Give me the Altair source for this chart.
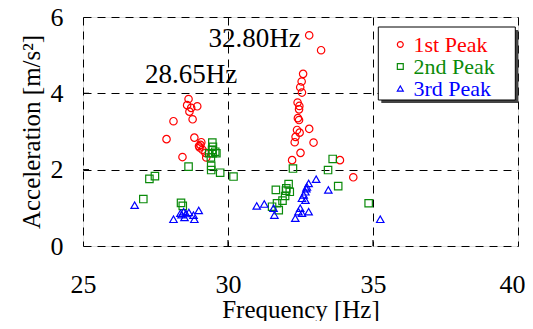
import altair as alt
import pandas as pd

# ---- data ----
series_names = ["1st Peak", "2nd Peak", "3rd Peak"]
series_colors = ["#FF0000", "#0A8A0A", "#0000FF"]
series_shapes = ["circle", "square", "triangle-up"]

p1_freq = [28.64, 28.59, 28.73, 28.94, 28.67, 28.78, 28.12, 27.88, 28.84, 29.08, 29.05, 29.02,
           29.12, 29.22, 29.25, 28.43, 29.00,
           32.80, 33.21, 32.59, 32.54, 32.49, 32.55, 32.40, 32.46, 32.45, 32.41, 32.45, 32.38,
           32.47, 32.80, 32.33, 32.30, 32.95, 32.50, 32.21, 33.86, 34.32]
p1_acc = [3.85, 3.69, 3.62, 3.66, 3.52, 3.32, 3.27, 2.80, 2.84, 2.72, 2.65, 2.58,
          2.52, 2.44, 2.32, 2.33, 2.62,
          5.52, 5.13, 4.51, 4.31, 4.16, 4.02, 3.76, 3.67, 3.58, 3.35, 3.30, 3.04,
          2.97, 3.07, 2.86, 2.72, 2.71, 2.44, 2.25, 2.25, 1.80]

p2_freq = [29.46, 29.48, 29.45, 29.56, 29.35, 29.47, 29.60, 29.41, 29.42, 29.42, 29.73, 28.64,
           30.19, 27.48, 27.29, 27.08, 28.38, 28.44,
           33.61, 33.45, 32.24, 33.80, 32.09, 31.65, 32.01, 32.13, 31.97, 31.88, 31.69, 31.52,
           31.75, 34.85, 32.00]
p2_acc = [2.71, 2.60, 2.52, 2.47, 2.43, 2.43, 2.43, 2.32, 2.10, 1.99, 1.92, 2.08,
          1.82, 1.83, 1.76, 1.23, 1.13, 1.05,
          2.28, 1.99, 2.03, 1.57, 1.62, 1.47, 1.51, 1.42, 1.31, 1.19, 1.12, 1.03,
          0.94, 1.12, 1.45]

p3_freq = [26.78, 28.12, 28.36, 28.47, 28.55, 28.65, 28.81, 28.84, 28.99, 28.50, 28.40,
           33.04, 33.46, 32.78, 32.72, 32.67, 32.61, 32.55, 32.67, 32.70, 30.99, 31.25, 31.57,
           31.60, 32.49, 32.78, 32.43, 32.55, 32.32, 35.25]
p3_acc = [1.07, 0.70, 0.86, 0.90, 0.85, 0.88, 0.81, 0.70, 0.93, 0.75, 0.82,
          1.75, 1.47, 1.64, 1.55, 1.42, 1.34, 1.25, 1.20, 1.50, 1.05, 1.10, 0.99,
          0.81, 0.99, 0.90, 0.90, 0.86, 0.73, 0.70]

x_ticks = [25, 30, 35, 40]
y_ticks = [0, 2, 4, 6]
x_inner_ticks = [30, 35]
y_inner_ticks = [2, 4]

annotations = ["32.80Hz", "28.65Hz"]

# ---- build table ----
frames = []
for name, fx, fy in zip(series_names, [p1_freq, p2_freq, p3_freq], [p1_acc, p2_acc, p3_acc]):
    frames.append(pd.DataFrame({"freq": fx, "acc": fy, "series": name}))
df = pd.concat(frames, ignore_index=True)

W, H = 435, 229
FONT = "Liberation Serif"

xscale = alt.Scale(domain=[25, 40], nice=False, zero=False)
yscale = alt.Scale(domain=[0, 6], nice=False)

x_axis = alt.Axis(values=x_ticks, title="Frequency [Hz]", domain=False, ticks=False,
                  grid=True, gridDash=[8, 6], gridColor="black", gridWidth=1, gridOpacity=1,
                  labelFont=FONT, labelFontSize=26, labelColor="black", labelPadding=25,
                  labelFlush=False,
                  labelOffset={"condition": {"test": "datum.value >= 40", "value": -6}, "value": 0},
                  titleFont=FONT, titleFontSize=25, titleFontWeight="normal", titleColor="black",
                  titlePadding=0)
y_axis = alt.Axis(values=y_ticks, title="Acceleration [m/s²]", domain=False, ticks=False,
                  grid=True, gridDash=[8, 6], gridColor="black", gridWidth=1, gridOpacity=1,
                  labelFont=FONT, labelFontSize=26, labelColor="black", labelPadding=20,
                  labelFlush=False,
                  titleFont=FONT, titleFontSize=25, titleFontWeight="normal", titleColor="black",
                  titlePadding=6)

points = alt.Chart(df).mark_point(filled=False, size=55, strokeWidth=1.2, opacity=1).encode(
    x=alt.X("freq:Q", scale=xscale, axis=x_axis),
    y=alt.Y("acc:Q", scale=yscale, axis=y_axis),
    color=alt.Color("series:N", scale=alt.Scale(domain=series_names, range=series_colors), legend=None),
    shape=alt.Shape("series:N", scale=alt.Scale(domain=series_names, range=series_shapes), legend=None),
)

xt = alt.Chart(pd.DataFrame({"v": x_inner_ticks})).mark_rule(color="black", strokeWidth=1.2).encode(
    x=alt.X("v:Q", scale=xscale), y=alt.value(H), y2=alt.value(H - 6))
yt = alt.Chart(pd.DataFrame({"v": y_inner_ticks})).mark_rule(color="black", strokeWidth=1.2).encode(
    y=alt.Y("v:Q", scale=yscale), x=alt.value(0), x2=alt.value(6))

ann_pos = [(125.5, 29.7), (62.0, 66.3)]
ann_layers = []
for txt, (ax, ay) in zip(annotations, ann_pos):
    ann_layers.append(
        alt.Chart(pd.DataFrame({"t": [txt]})).mark_text(
            align="left", baseline="alphabetic", font=FONT, fontSize=27, color="black"
        ).encode(text="t:N", x=alt.value(ax), y=alt.value(ay))
    )

# legend (drawn manually so labels take series colours)
one = pd.DataFrame({"a": [0]})
shadow = alt.Chart(one).mark_rect(fill="#444444").encode(
    x=alt.value(298.3), x2=alt.value(435.3), y=alt.value(13), y2=alt.value(86))
box = alt.Chart(one).mark_rect(fill="white", stroke="black", strokeWidth=1).encode(
    x=alt.value(295.3), x2=alt.value(432.3), y=alt.value(10), y2=alt.value(83))
leg_layers = [shadow, box]
for i, (name, col, shp) in enumerate(zip(series_names, series_colors, series_shapes)):
    cy = 27.5 + 22 * i
    leg_layers.append(
        alt.Chart(pd.DataFrame({"s": [name]})).mark_point(
            filled=False, shape=shp, size=35, strokeWidth=1.2, color=col, opacity=1
        ).encode(x=alt.value(317.3), y=alt.value(cy))
    )
    leg_layers.append(
        alt.Chart(pd.DataFrame({"s": [name]})).mark_text(
            align="left", baseline="alphabetic", font=FONT, fontSize=22, color=col
        ).encode(text="s:N", x=alt.value(330.5), y=alt.value(cy + 7.5))
    )

chart = alt.layer(points, xt, yt, *ann_layers, *leg_layers).properties(
    width=W, height=H,
    autosize=alt.AutoSizeParams(type="none"),
    padding={"left": 75, "top": 9, "right": 7, "bottom": 75},
).configure_view(stroke="black", strokeWidth=1.5).configure(background="white")

chart.save("out.html", embed_options={"renderer": "svg", "actions": False})
